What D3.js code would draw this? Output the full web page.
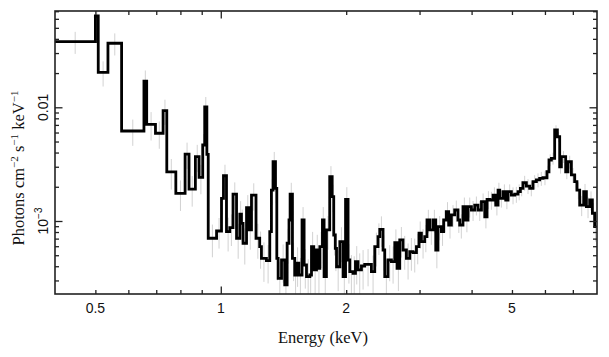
<!DOCTYPE html>
<html><head><meta charset="utf-8">
<script src="https://cdn.jsdelivr.net/npm/d3@7/dist/d3.min.js"></script>
<style>body{margin:0;background:#fff}svg{display:block}</style>
</head><body><svg id="c" width="609" height="357"></svg>
<script>
// Lower bin edges (keV)
const binLo = [0.400,0.500,0.508,0.536,0.578,0.654,0.664,0.697,0.727,0.742,
0.780,0.821,0.839,0.869,0.887,0.905,0.915,0.926,0.933,0.977,
1.004,1.015,1.032,1.051,1.070,1.091,1.111,1.121,1.131,1.153,
1.169,1.185,1.215,1.240,1.252,1.287,1.311,1.323,1.335,1.353,
1.363,1.373,1.399,1.424,1.443,1.458,1.467,1.486,1.505,1.519,
1.539,1.567,1.585,1.606,1.636,1.651,1.672,1.697,1.712,1.729,
1.754,1.770,1.793,1.826,1.851,1.867,1.883,1.896,1.931,1.966,
1.993,2.021,2.040,2.077,2.105,2.135,2.176,2.216,2.299,2.342,
2.385,2.408,2.452,2.475,2.520,2.568,2.616,2.649,2.689,2.738,
2.790,2.842,2.894,2.949,2.991,3.031,3.087,3.126,3.173,3.232,
3.281,3.322,3.385,3.428,3.479,3.524,3.577,3.643,3.710,3.745,
3.814,3.873,3.922,3.996,4.070,4.145,4.224,4.302,4.357,4.423,
4.504,4.571,4.630,4.673,4.760,4.831,4.892,4.984,5.076,5.170,
5.238,5.314,5.414,5.514,5.616,5.722,5.827,5.935,6.067,6.135,
6.216,6.331,6.427,6.509,6.570,6.728,6.814,6.944,7.071,7.161,
7.270,7.432,7.544,7.683,7.798,7.898];
const binEnd = 7.973;
// Photons cm^-2 s^-1 keV^-1
const flux = [0.0378,0.0635,0.0203,0.0366,0.00619,0.0170,0.00709,0.00591,0.00933,0.00270,
0.00175,0.00388,0.00191,0.00368,0.00242,0.00466,0.0101,0.00386,0.000705,0.000817,
0.00158,0.00250,0.000805,0.000873,0.00172,0.000705,0.00115,0.000954,0.000637,0.00131,
0.000834,0.00169,0.000705,0.000594,0.000470,0.000448,0.000805,0.00187,0.00332,0.00194,
0.000470,0.000313,0.000454,0.000274,0.000637,0.00102,0.00172,0.000470,0.000335,0.000425,
0.000335,0.00102,0.000410,0.000324,0.000335,0.000594,0.000371,0.000556,0.000384,0.000594,
0.00102,0.000324,0.000834,0.00245,0.00164,0.000753,0.000575,0.000396,0.000658,0.000324,
0.00155,0.000454,0.000358,0.000347,0.000439,0.000371,0.000402,0.000416,0.000358,0.000594,
0.000728,0.000845,0.000556,0.000324,0.000454,0.000439,0.000644,0.000384,0.000681,0.000556,
0.000470,0.000537,0.000526,0.000594,0.000780,0.000658,0.000728,0.00102,0.000834,0.00102,
0.000556,0.000891,0.000805,0.00102,0.00121,0.000922,0.00113,0.00125,0.00102,0.000922,
0.00134,0.00102,0.00134,0.00125,0.00138,0.00125,0.00148,0.00109,0.00155,0.00153,
0.00169,0.00138,0.00187,0.00158,0.00181,0.00153,0.00181,0.00169,0.00172,0.00181,
0.00194,0.00217,0.00203,0.00194,0.00222,0.00230,0.00237,0.00240,0.00271,0.00344,
0.00356,0.00632,0.00551,0.00300,0.00368,0.00271,0.00332,0.00254,0.00222,0.00187,
0.00138,0.00181,0.00134,0.00153,0.00117,0.000891];
// fractional 1-sigma errors
const relErr = [0.22,0.20,0.25,0.22,0.26,0.24,0.28,0.27,0.25,0.30,
0.30,0.26,0.30,0.27,0.29,0.25,0.22,0.26,0.32,0.30,
0.28,0.25,0.33,0.31,0.27,0.34,0.30,0.32,0.35,0.29,
0.33,0.27,0.34,0.36,0.38,0.37,0.32,0.26,0.22,0.26,
0.36,0.40,0.37,0.42,0.34,0.30,0.26,0.37,0.40,0.38,
0.41,0.30,0.38,0.42,0.40,0.35,0.39,0.36,0.40,0.35,
0.30,0.42,0.33,0.24,0.27,0.34,0.37,0.39,0.34,0.42,
0.28,0.38,0.40,0.41,0.37,0.40,0.38,0.36,0.39,0.33,
0.31,0.30,0.34,0.40,0.35,0.36,0.31,0.37,0.30,0.33,
0.35,0.32,0.33,0.30,0.27,0.29,0.27,0.23,0.26,0.23,
0.31,0.24,0.25,0.22,0.21,0.24,0.22,0.21,0.23,0.24,
0.20,0.22,0.20,0.20,0.19,0.20,0.18,0.21,0.18,0.18,
0.17,0.19,0.16,0.17,0.16,0.17,0.16,0.17,0.16,0.16,
0.15,0.15,0.15,0.15,0.14,0.14,0.14,0.14,0.13,0.12,
0.12,0.10,0.10,0.13,0.12,0.14,0.13,0.15,0.16,0.17,
0.20,0.17,0.21,0.19,0.23,0.26];

const xMinorTicks = [0.5,0.6,0.7,0.8,0.9,2,3,4,5,6,7];
const xMajorTicks = [1];
const xTickLabels = [0.5,1,2,5];
const yMinorTicks = [3e-4,4e-4,5e-4,6e-4,7e-4,8e-4,9e-4,2e-3,3e-3,4e-3,5e-3,6e-3,7e-3,8e-3,9e-3,0.02,0.03,0.04,0.05,0.06,0.07];
const yMajorTicks = [1e-3,0.01];
const xDomain = [0.4, 8.0];
const yDomain = [2.28e-4, 0.0703];

const L=55, R=597, T=11, B=294;
const svg = d3.select("#c");
const x = d3.scaleLog().domain(xDomain).range([L,R]);
const y = d3.scaleLog().domain(yDomain).range([B,T]);

svg.append("defs").append("clipPath").attr("id","clip")
  .append("rect").attr("x",L).attr("y",T).attr("width",R-L).attr("height",B-T);

const bins = binLo.map((lo,i)=>({lo, hi: i<binLo.length-1?binLo[i+1]:binEnd, f:flux[i], e:relErr[i]}));
const plot = svg.append("g").attr("clip-path","url(#clip)");

// error bars
plot.selectAll("line.err").data(bins).join("line")
  .attr("class","err")
  .attr("x1",d=>x(Math.sqrt(d.lo*d.hi))).attr("x2",d=>x(Math.sqrt(d.lo*d.hi)))
  .attr("y1",d=>y(d.f*(1+d.e))).attr("y2",d=>y(d.f*(1-d.e)))
  .attr("stroke","#d2d2d2").attr("stroke-width",1);

// step histogram
const pts = bins.map(d=>[d.lo,d.f]);
pts.push([binEnd, flux[flux.length-1]]);
const line = d3.line().x(d=>x(d[0])).y(d=>y(d[1])).curve(d3.curveStepAfter);
plot.append("path").attr("d",line(pts)).attr("fill","none")
  .attr("stroke","#000").attr("stroke-width",2.8).attr("stroke-linejoin","miter");

// frame
svg.append("rect").attr("x",L).attr("y",T).attr("width",R-L).attr("height",B-T)
  .attr("fill","none").attr("stroke","#222").attr("stroke-width",1.6);

function axisG(axis, tx, ty){
  const g = svg.append("g").attr("transform",`translate(${tx},${ty})`).call(axis);
  g.select(".domain").remove();
  g.selectAll("line").attr("stroke","#222").attr("stroke-width",1.3);
  g.selectAll("text").remove();
  return g;
}
axisG(d3.axisBottom(x).tickValues(xMinorTicks).tickSize(-4).tickFormat(""),0,B);
axisG(d3.axisBottom(x).tickValues(xMajorTicks).tickSize(-7.5).tickFormat(""),0,B);
axisG(d3.axisTop(x).tickValues(xMinorTicks).tickSize(-4).tickFormat(""),0,T);
axisG(d3.axisTop(x).tickValues(xMajorTicks).tickSize(-7.5).tickFormat(""),0,T);
axisG(d3.axisLeft(y).tickValues(yMinorTicks).tickSize(-4).tickFormat(""),L,0);
axisG(d3.axisLeft(y).tickValues(yMajorTicks).tickSize(-7.5).tickFormat(""),L,0);
axisG(d3.axisRight(y).tickValues(yMinorTicks).tickSize(-4).tickFormat(""),R,0);
axisG(d3.axisRight(y).tickValues(yMajorTicks).tickSize(-7.5).tickFormat(""),R,0);

const sans = "'Liberation Sans', Arial, Helvetica, sans-serif";
const serif = "'Liberation Serif', 'Times New Roman', serif";

// x tick labels
svg.selectAll("text.xl").data(xTickLabels).join("text").attr("class","xl")
  .attr("x",d=>x(d)).attr("y",313).attr("text-anchor","middle")
  .attr("font-family",sans).attr("font-size",14).attr("fill","#111")
  .text(d=>String(d));

// y tick labels (rotated)
svg.append("text").attr("transform",`translate(48,${y(0.01)}) rotate(-90)`)
  .attr("text-anchor","middle").attr("font-family",sans).attr("font-size",14).attr("fill","#111")
  .text("0.01");
const yl2 = svg.append("text").attr("transform",`translate(48,${y(0.001)}) rotate(-90)`)
  .attr("text-anchor","middle").attr("font-family",sans).attr("font-size",14).attr("fill","#111");
yl2.append("tspan").text("10");
yl2.append("tspan").attr("dy",-6).attr("font-size",10).text("\u22123");

// axis titles
svg.append("text").attr("x",323).attr("y",343).attr("text-anchor","middle")
  .attr("font-family",serif).attr("font-size",16.5).attr("fill","#111").text("Energy (keV)");

const yt = svg.append("text").attr("transform",`translate(24,168) rotate(-90)`)
  .attr("text-anchor","middle").attr("font-family",serif).attr("font-size",16.5).attr("fill","#111");
yt.append("tspan").text("Photons cm");
yt.append("tspan").attr("dy",-6).attr("font-size",11).text("\u22122");
yt.append("tspan").attr("dy",6).text(" s");
yt.append("tspan").attr("dy",-6).attr("font-size",11).text("\u22121");
yt.append("tspan").attr("dy",6).text(" keV");
yt.append("tspan").attr("dy",-6).attr("font-size",11).text("\u22121");
</script>
</body></html>
